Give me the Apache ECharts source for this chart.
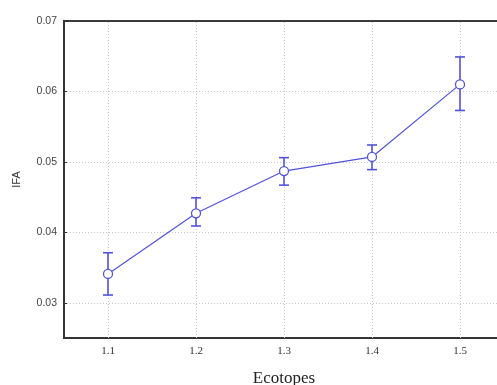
<!DOCTYPE html>
<html>
<head>
<meta charset="utf-8">
<script src="https://cdn.jsdelivr.net/npm/echarts@6/dist/echarts.min.js"></script>
<style>
  html, body { margin: 0; padding: 0; background: #fff; }
  #chart { width: 497px; height: 385px; }
</style>
</head>
<body>
<div id="chart"></div>
<script>
// ecotope categories and IFA means with error bar ends
var ecotopes = ["1.1", "1.2", "1.3", "1.4", "1.5"];
var ifaMean = [0.0341, 0.0427, 0.0487, 0.0507, 0.0610];
var ifaLow = [0.0311, 0.0409, 0.0467, 0.0489, 0.0573];
var ifaHigh = [0.0371, 0.0449, 0.0506, 0.0524, 0.0649];
var yTicks = [0.03, 0.04, 0.05, 0.06, 0.07];

var blue = "#5252dc";
var gridDot = { color: "#c8c8c8", type: [1, 2], width: 1 };

var errData = ecotopes.map(function (c, i) {
  return [i, ifaLow[i], ifaHigh[i]];
});

var myChart = echarts.init(document.getElementById("chart"));
var option = {
  animation: false,
  grid: {
    left: 64,
    top: 21,
    width: 440,
    height: 317,
    outerBoundsMode: "none",
    containLabel: false,
    show: true,
    borderColor: "#3a3a3a",
    borderWidth: 2,
    backgroundColor: "#fff"
  },
  xAxis: {
    type: "category",
    data: ecotopes,
    boundaryGap: true,
    name: "Ecotopes",
    nameLocation: "middle",
    nameGap: 32,
    nameTextStyle: { fontFamily: "Liberation Serif", fontSize: 17, color: "#222" },
    axisLine: { lineStyle: { color: "#333", width: 1.5 } },
    axisTick: { show: false },
    axisLabel: { fontFamily: "Liberation Serif", fontSize: 11, color: "#333", margin: 8 },
    splitLine: { show: false }
  },
  yAxis: {
    type: "value",
    min: 0.025,
    max: 0.07,
    name: "IFA",
    nameLocation: "middle",
    nameGap: 42,
    nameTextStyle: { fontFamily: "Liberation Sans", fontSize: 11, color: "#333" },
    axisLine: { show: true, lineStyle: { color: "#333", width: 1.5 } },
    axisTick: { show: true, inside: true, length: 3, customValues: yTicks, lineStyle: { color: "#333" } },
    axisLabel: {
      customValues: yTicks,
      fontFamily: "Liberation Sans",
      fontSize: 10.5,
      color: "#444",
      margin: 7,
      formatter: function (v) { return v.toFixed(2); }
    },
    splitLine: { show: true, showMaxLine: false, lineStyle: gridDot }
  },
  series: [
    {
      name: "vgrid",
      type: "line",
      data: [],
      z: 1,
      silent: true,
      markLine: {
        silent: true,
        symbol: "none",
        label: { show: false },
        lineStyle: gridDot,
        data: ecotopes.map(function (c) { return { xAxis: c }; })
      }
    },
    {
      name: "IFA",
      type: "line",
      data: ifaMean,
      symbol: "circle",
      symbolSize: 9,
      itemStyle: { color: "#fff", borderColor: blue, borderWidth: 1.3 },
      lineStyle: { color: blue, width: 1.2 },
      z: 6
    },
    {
      name: "err",
      type: "custom",
      data: errData,
      z: 5,
      renderItem: function (params, api) {
        var x = api.value(0);
        var lo = api.coord([x, api.value(1)]);
        var hi = api.coord([x, api.value(2)]);
        var w = 5;
        var st = { stroke: blue, lineWidth: 1.6 };
        return {
          type: "group",
          children: [
            { type: "line", shape: { x1: lo[0], y1: lo[1], x2: hi[0], y2: hi[1] }, style: st },
            { type: "line", shape: { x1: lo[0] - w, y1: lo[1], x2: lo[0] + w, y2: lo[1] }, style: st },
            { type: "line", shape: { x1: hi[0] - w, y1: hi[1], x2: hi[0] + w, y2: hi[1] }, style: st }
          ]
        };
      }
    }
  ]
};
myChart.setOption(option);
window.onresize = function () {
  myChart.resize();
};
</script>
</body>
</html>
